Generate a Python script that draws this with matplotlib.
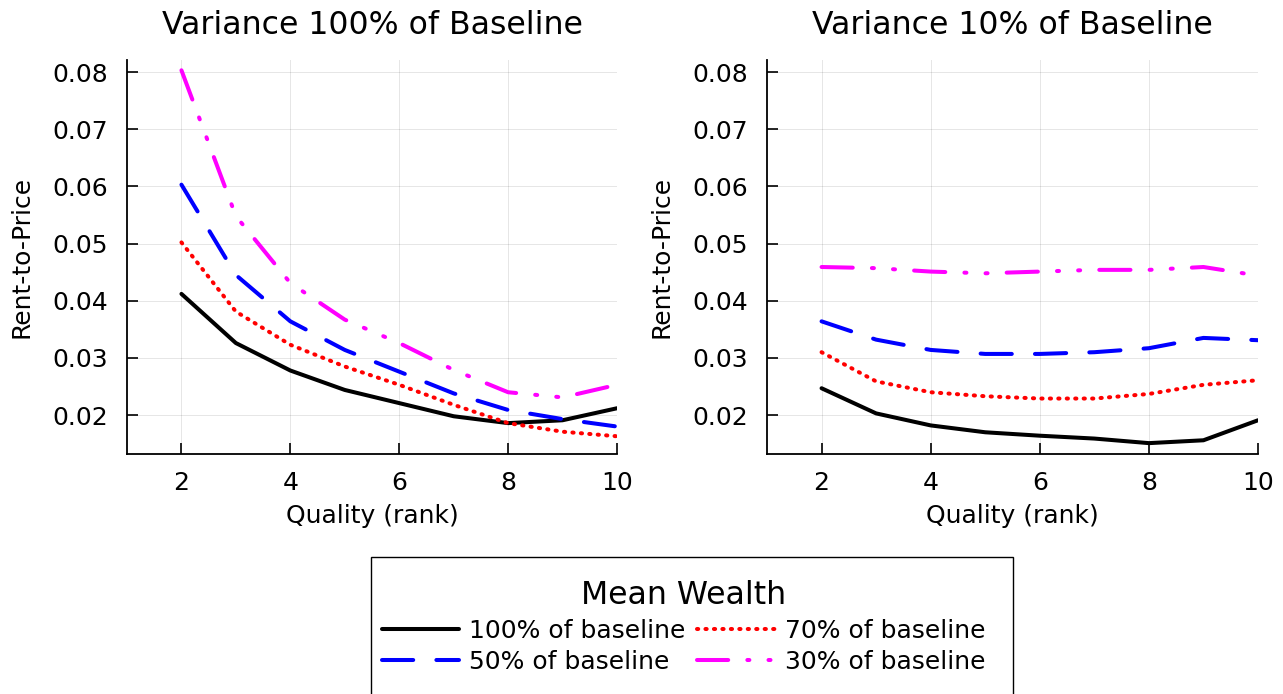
import numpy as np
import matplotlib
matplotlib.use("Agg")
import matplotlib.pyplot as plt
from matplotlib.patches import Rectangle

# quality ranks on the x axis
quality = [2, 3, 4, 5, 6, 7, 8, 9, 10]

# left panel: variance 100% of baseline
v100_w100 = [0.0412, 0.0326, 0.0278, 0.0244, 0.0221, 0.0198, 0.0186, 0.0191, 0.0212]
v100_w70 = [0.0502, 0.0381, 0.0323, 0.0285, 0.0253, 0.0218, 0.0186, 0.0171, 0.0163]
v100_w50 = [0.0603, 0.0445, 0.0364, 0.0314, 0.0276, 0.0238, 0.0209, 0.0193, 0.0180]
v100_w30 = [0.0803, 0.0548, 0.0431, 0.0367, 0.0326, 0.0279, 0.0240, 0.0231, 0.0253]

# right panel: variance 10% of baseline
v10_w100 = [0.0247, 0.0203, 0.0182, 0.0170, 0.0164, 0.0159, 0.0151, 0.0156, 0.0191]
v10_w70 = [0.0310, 0.0259, 0.0240, 0.0233, 0.0229, 0.0229, 0.0237, 0.0253, 0.0261]
v10_w50 = [0.0364, 0.0332, 0.0314, 0.0307, 0.0307, 0.0310, 0.0317, 0.0335, 0.0331]
v10_w30 = [0.0459, 0.0457, 0.0451, 0.0448, 0.0451, 0.0454, 0.0454, 0.0459, 0.0444]

panel_titles = ["Variance 100% of Baseline", "Variance 10% of Baseline"]
series_labels = ["100% of baseline", "70% of baseline", "50% of baseline", "30% of baseline"]
yticks = [0.02, 0.03, 0.04, 0.05, 0.06, 0.07, 0.08]
xticks = [2, 4, 6, 8, 10]

styles = [
    dict(color="black", linestyle="-"),
    dict(color="red", linestyle=(0, (0.3, 1.8))),
    dict(color="blue", linestyle=(0, (7.75, 5.75))),
    dict(color="magenta", linestyle=(0, (7.75, 4.75, 0.5, 4.75, 0.5, 4.75))),
]

plt.rcParams["font.family"] = "DejaVu Sans"

W, H = 1283, 694
fig = plt.figure(figsize=(W / 100, H / 100), dpi=100)

boxes = [(127, 60, 617, 454), (767, 60, 1258, 454)]
panels = [
    [v100_w100, v100_w70, v100_w50, v100_w30],
    [v10_w100, v10_w70, v10_w50, v10_w30],
]

lines = []
for (x0, y0, x1, y1), title, data in zip(boxes, panel_titles, panels):
    ax = fig.add_axes([x0 / W, 1 - y1 / H, (x1 - x0) / W, (y1 - y0) / H])
    lines = []
    for vals, st, lab in zip(data, styles, series_labels):
        ln, = ax.plot(quality, vals, linewidth=2.9, solid_capstyle="round",
                      dash_capstyle="round", label=lab, **st)
        lines.append(ln)
    ax.set_xlim(1, 10)
    ax.set_ylim(0.0132, 0.0821)
    ax.set_xticks(xticks)
    ax.set_yticks(yticks)
    ax.set_yticklabels([f"{t:.2f}" for t in yticks])
    ax.grid(True, color="black", alpha=0.1, linewidth=0.7)
    ax.set_axisbelow(True)
    for s in ["top", "right"]:
        ax.spines[s].set_visible(False)
    for s in ["left", "bottom"]:
        ax.spines[s].set_linewidth(1.3)
    ax.tick_params(direction="in", length=8, width=1.2, labelsize=18)
    ax.tick_params(axis="y", pad=13.5)
    ax.tick_params(axis="x", pad=12)
    ax.set_title(title, fontsize=22.7, pad=19)
    ax.set_xlabel("Quality (rank)", fontsize=18, labelpad=6.5)
    ax.set_ylabel("Rent-to-Price", fontsize=18, labelpad=14)

# legend fills column-wise, so order handles to get rows 100/70 and 50/30
order = [0, 2, 1, 3]
leg = fig.legend([lines[i] for i in order], [series_labels[i] for i in order],
                 ncol=2, loc="upper left",
                 bbox_to_anchor=(382 / W, 1 - 580 / H), borderaxespad=0,
                 title="Mean Wealth", title_fontsize=22.7, fontsize=18,
                 handlelength=3.1, handletextpad=0.4, columnspacing=0.45,
                 labelspacing=0.3, frameon=False, borderpad=0)

# legend box, running off the bottom edge like in the original
fig.patches.append(Rectangle((371 / W, -0.02), (1013 - 371) / W, (1 - 557 / H) + 0.02,
                             transform=fig.transFigure, fill=False,
                             edgecolor="black", linewidth=1.0))

fig.savefig("out.png", dpi=100)
